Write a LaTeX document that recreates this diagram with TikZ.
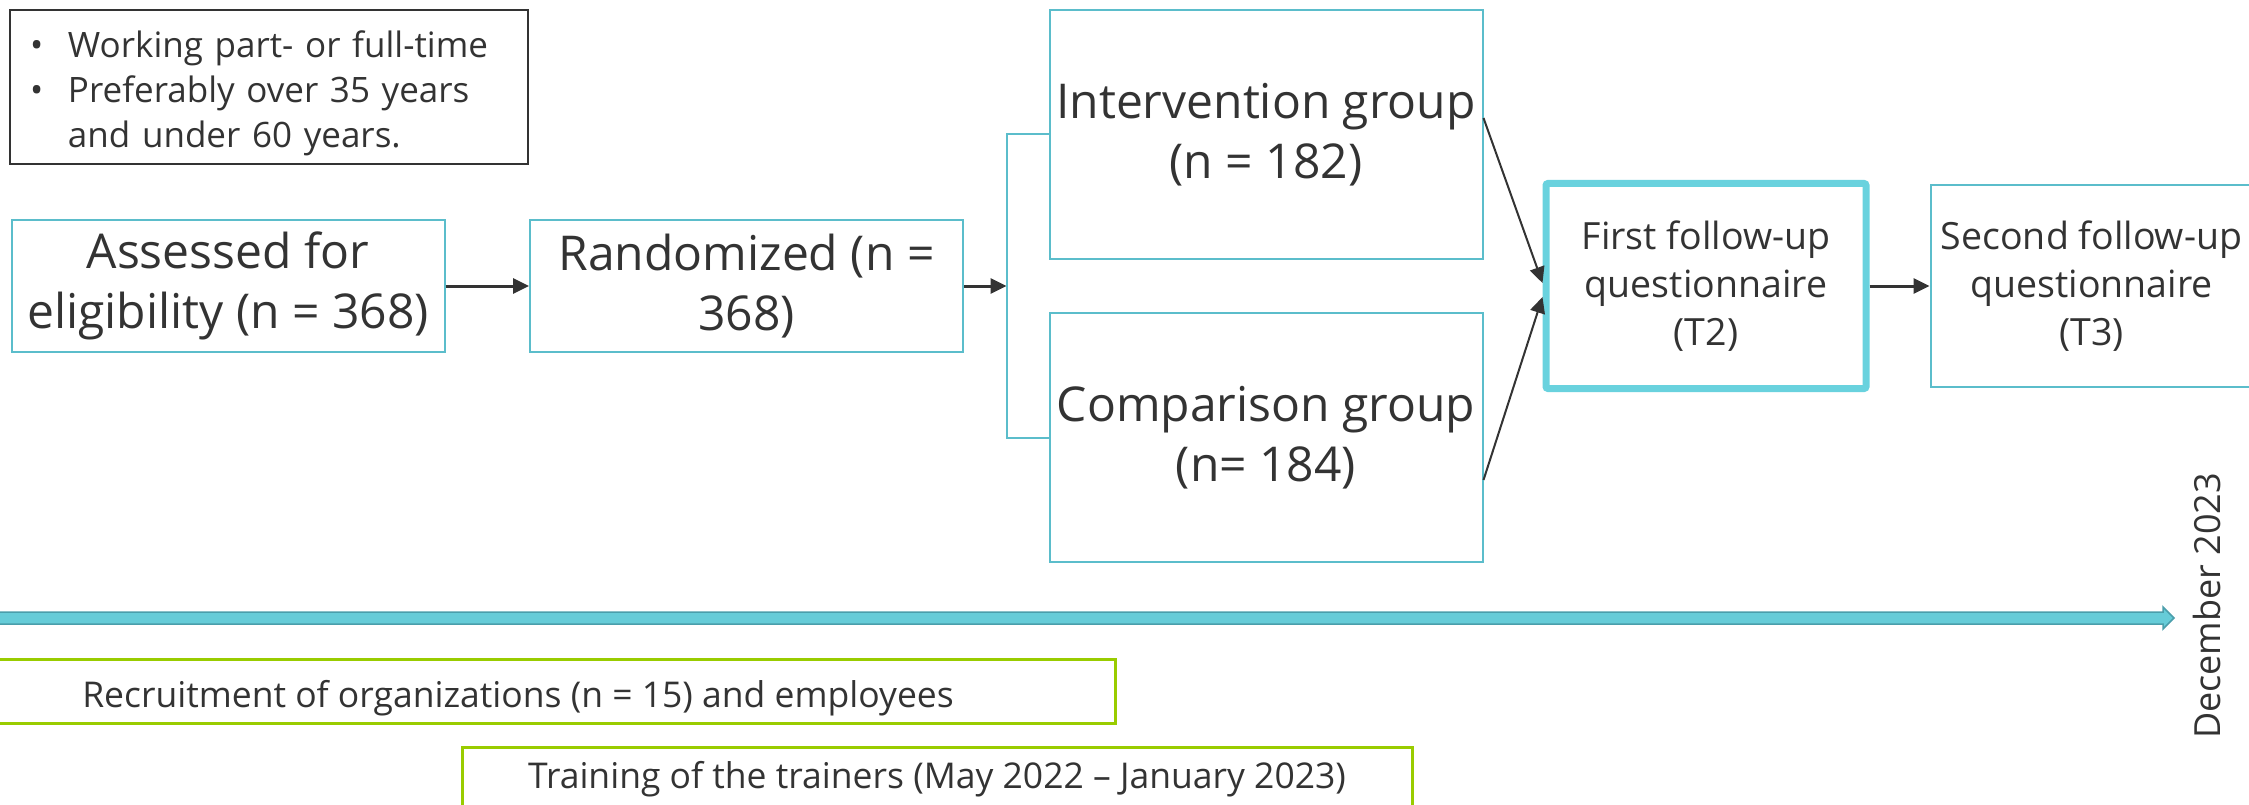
\documentclass[tikz,border=0pt]{standalone}
\usepackage{fontspec}
\setmainfont{Open Sans}
\usetikzlibrary{positioning, arrows.meta}
\definecolor{ink}{HTML}{333333}
\definecolor{stageline}{HTML}{5BBDCB}
\definecolor{currentline}{HTML}{69D2DE}
\definecolor{tlfill}{HTML}{66CCD8}
\definecolor{tledge}{HTML}{4A9EAB}
\definecolor{periodline}{HTML}{99CC00}
\tikzset{
    on grid,
    >={Triangle[length=16pt, width=15pt]},
    conn/.style={->, draw=ink, line width=3pt},
    stage/.style={draw=stageline, line width=2pt, text=ink, align=center,
        inner sep=0pt, minimum width=433pt, font=\fontsize{48}{60}\selectfont},
    later/.style={stage, minimum width=322pt, minimum height=202pt,
        font=\fontsize{37.5}{48}\selectfont},
    current/.style={later, draw=currentline, line width=7pt, rounded corners=2pt,
        minimum width=320pt, minimum height=205pt},
    crit/.style={draw=ink, line width=2pt, text=ink, align=left, text width=478pt,
        inner xsep=20pt, minimum height=154pt, font=\fontsize{35}{45}\selectfont},
    period/.style={draw=periodline, line width=3pt, text=ink, inner sep=0pt,
        minimum height=64pt, font=\fontsize{35.5}{42}\selectfont},
}
\newcommand{\critbullet}{\makebox[38pt][l]{\textbullet}}

\begin{document}
\begin{tikzpicture}[x=1pt, y=-1pt]
    \clip (0,0) rectangle (2249,805);

    % inclusion criteria
    \node[crit] (crit) at (269,87) {\rule{0pt}{39pt}\critbullet Working part- or full-time\\
        \critbullet Preferably over 35 years\\
        \hspace*{38pt}and under 60 years.};

    % flow of participants
    \node[stage, minimum height=132pt] (assess) at (228,286) {Assessed for\\eligibility (n = 368)};
    \node[stage, minimum height=132pt, right=518.5pt of assess] (rand) {Randomized (n =\\368)};
    \coordinate[right=260pt of rand] (split);
    \node[stage, minimum height=249pt, above right=151.5pt and 519.5pt of rand] (interv) {Intervention group\\(n = 182)};
    \node[stage, minimum height=249pt, below=303pt of interv] (comp) {Comparison group\\(n= 184)};
    \node[current, right=959.5pt of rand] (fu1) {First follow-up\\questionnaire\\(T2)};
    \node[later, right=385.5pt of fu1] (fu2) {Second follow-up\\questionnaire\\(T3)};

    \draw[conn] (assess) -- (rand);
    \draw[conn] (rand) -- (split);
    \draw[draw=stageline, line width=2pt] (interv.west) -| (split) |- (comp.west);
    \draw[conn, line width=2pt] ([yshift=16.5pt]interv.east) -- ([yshift=3pt]fu1.west);
    \draw[conn, line width=2pt] ([yshift=-42.5pt]comp.east) -- ([yshift=-11pt]fu1.west);
    \draw[conn] (fu1) -- (fu2);

    % time line
    \coordinate (tltip) at (2174,618);
    \filldraw[fill=tlfill, draw=tledge, line width=1.5pt]
        (-10,612) -- (2163,612) -- (2163,607) -- (tltip)
        -- (2163,629) -- (2163,624) -- (-10,624) -- cycle;
    \node[rotate=90, text=ink, font=\fontsize{36}{42}\selectfont] (dec) at (2207,606) {December 2023};

    \node[period, minimum width=1194pt, text height=32pt, text depth=0pt] (recruit) at (518,691) {Recruitment of organizations (n = 15) and employees};
    \node[period, minimum width=950pt] (train) at (937,779.5) {Training of the trainers (May 2022 – January 2023)};
\end{tikzpicture}
\end{document}
